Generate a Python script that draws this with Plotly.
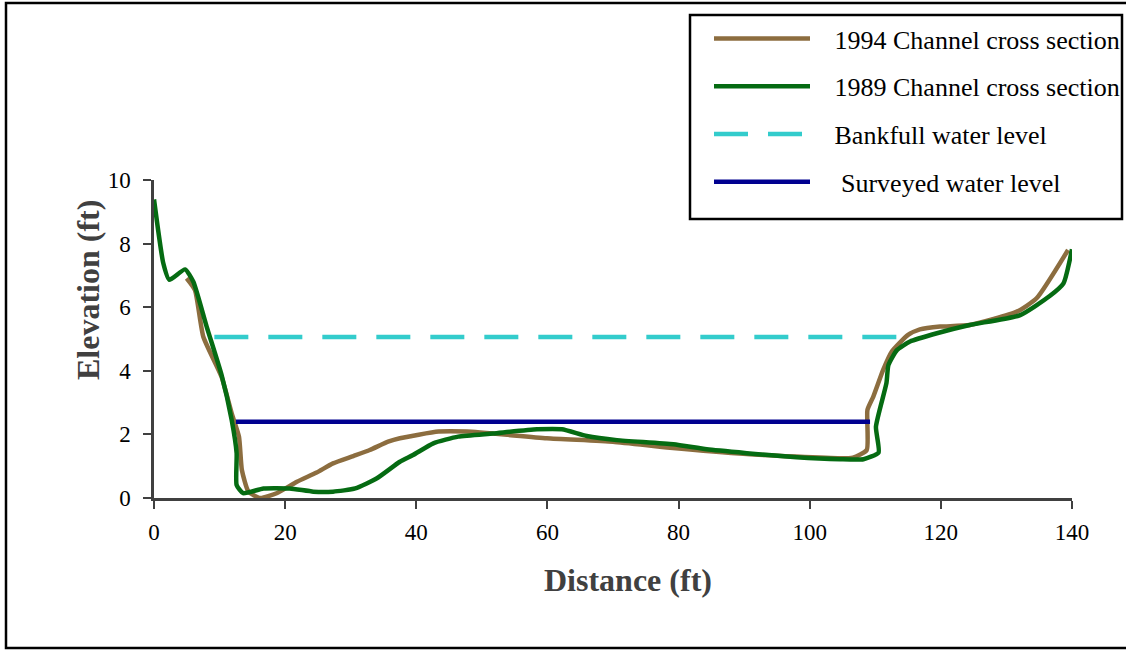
import plotly.graph_objects as go

# ---- data ----
x_1994 = [4.98, 6.25, 7.52, 10.3, 11.85, 12.96, 13.4, 14.4, 16.2, 18.7, 21.8, 24.8, 27.3, 30.4,
          32.9, 35.7, 37.5, 43.4, 47.7, 59.9, 70.0, 78.7, 90.4, 104.6, 106.6, 108.7, 108.8,
          109.7, 111.2, 112.5, 115.0, 116.8, 119.9, 124.4, 131.6, 134.6, 139.4]
y_1994 = [6.91, 6.54, 5.07, 3.81, 2.66, 1.93, 0.88, 0.20, 0.0, 0.15, 0.51, 0.80, 1.09, 1.32,
          1.51, 1.77, 1.88, 2.09, 2.09, 1.88, 1.77, 1.58, 1.38, 1.25, 1.27, 1.51, 2.77,
          3.19, 4.03, 4.60, 5.13, 5.30, 5.39, 5.44, 5.86, 6.28, 7.80]

x_1989 = [0.0, 1.42, 2.34, 4.73, 6.0, 8.03, 10.3, 11.85, 12.6, 12.6, 13.6, 16.7, 20.7, 24.3,
          27.3, 30.7, 34.0, 37.5, 39.5, 42.6, 46.4, 51.7, 58.4, 62.2, 66.0, 70.6, 79.2, 84.3,
          90.4, 98.0, 104.6, 108.2, 110.5, 110.1, 111.7, 112.0, 113.3, 115.3, 119.4, 124.4,
          132.1, 136.6, 138.7, 140.0]
y_1989 = [9.39, 7.38, 6.86, 7.19, 6.80, 5.39, 3.87, 2.45, 1.41, 0.41, 0.15, 0.30, 0.30, 0.20,
          0.20, 0.30, 0.62, 1.14, 1.35, 1.72, 1.93, 2.03, 2.16, 2.16, 1.95, 1.82, 1.69, 1.53,
          1.41, 1.28, 1.22, 1.22, 1.43, 2.24, 3.61, 4.18, 4.65, 4.92, 5.18, 5.44,
          5.75, 6.35, 6.75, 7.82]

bankfull_x = [9.2, 114.5]
bankfull_y = [5.06, 5.06]

surveyed_x = [12.5, 109.2]
surveyed_y = [2.40, 2.40]

x_ticks = [0, 20, 40, 60, 80, 100, 120, 140]
y_ticks = [0, 2, 4, 6, 8, 10]

series_names = ["1994 Channel cross section", "1989 Channel cross section",
                "Bankfull water level", " Surveyed water level"]

FONT = "Liberation Serif, Times New Roman, serif"
BROWN = "#8C6D3F"
GREEN = "#056B12"
CYAN = "#33CCCC"
NAVY = "#000090"
NB = "\u00a0"

fig = go.Figure()
fig.add_trace(go.Scatter(x=x_1994, y=y_1994, mode="lines", name=NB * 3 + series_names[0],
                         legendgroup="a",
                         line=dict(color=BROWN, width=4.5, shape="spline", smoothing=0.5)))
fig.add_trace(go.Scatter(x=x_1989, y=y_1989, mode="lines", name=NB * 3 + series_names[1],
                         legendgroup="b",
                         line=dict(color=GREEN, width=4.5, shape="spline", smoothing=0.5)))
fig.add_trace(go.Scatter(x=bankfull_x, y=bankfull_y, mode="lines", name=NB * 3 + series_names[2],
                         legendgroup="c",
                         line=dict(color=CYAN, width=4.5, dash="34px,20px")))
fig.add_trace(go.Scatter(x=surveyed_x, y=surveyed_y, mode="lines", name=NB * 3 + series_names[3],
                         legendgroup="d",
                         line=dict(color=NAVY, width=4.5)))

L, R, T, B = 154, 54, 180, 152
W, H = 1126, 650
pw, ph = W - L - R, H - T - B

def px_to_paper_x(px):
    return (px - L) / pw

def px_to_paper_y(py):
    return (H - B - py) / ph

axis_common = dict(
    showline=True, linecolor="#404040", linewidth=2.5,
    ticks="outside", ticklen=8, tickwidth=2, tickcolor="#404040",
    showgrid=False, zeroline=False,
    tickfont=dict(family=FONT, size=23, color="black"),
)

fig.update_layout(
    width=W, height=H,
    margin=dict(l=L, r=R, t=T, b=B, autoexpand=False),
    paper_bgcolor="white", plot_bgcolor="white",
    font=dict(family=FONT, color="black"),
    xaxis=dict(range=[0, 140], tickvals=x_ticks, ticklabelstandoff=4, **axis_common),
    yaxis=dict(range=[0, 10], tickvals=y_ticks, ticklabelstandoff=8, **axis_common),
    legend=dict(
        x=px_to_paper_x(709), y=px_to_paper_y(15), xanchor="left", yanchor="top",
        borderwidth=0, bgcolor="rgba(0,0,0,0)",
        font=dict(family=FONT, size=26, color="black"),
        itemwidth=96, tracegroupgap=11, traceorder="grouped",
    ),
    showlegend=True,
)

# legend frame
fig.add_shape(type="rect", xref="paper", yref="paper",
              x0=px_to_paper_x(690), x1=px_to_paper_x(1122),
              y0=px_to_paper_y(219), y1=px_to_paper_y(15),
              line=dict(color="black", width=2.5), fillcolor="white", layer="below")

# axis titles
fig.add_annotation(text="<b>Distance (ft)</b>", xref="paper", yref="paper",
                   x=px_to_paper_x(628), y=px_to_paper_y(580), xanchor="center", yanchor="middle",
                   showarrow=False, font=dict(family=FONT, size=32, color="#404040"))
fig.add_annotation(text="<b>Elevation (ft)</b>", xref="paper", yref="paper",
                   x=px_to_paper_x(88), y=px_to_paper_y(290), xanchor="center", yanchor="middle",
                   showarrow=False, textangle=-90,
                   font=dict(family=FONT, size=32, color="#404040"))

# outer frame
fig.add_shape(type="rect", xref="paper", yref="paper",
              x0=px_to_paper_x(6), x1=px_to_paper_x(1130),
              y0=px_to_paper_y(648), y1=px_to_paper_y(3),
              line=dict(color="black", width=2.5), layer="below")

fig.write_html("out.html", config={"displayModeBar": False},
               post_script="document.body.style.margin='0';")
